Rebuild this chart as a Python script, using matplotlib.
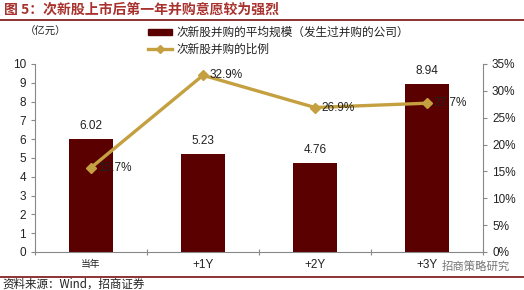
import matplotlib
matplotlib.use("Agg")
import matplotlib.pyplot as plt
from matplotlib.lines import Line2D
import numpy as np

plt.rcParams['font.family'] = ['Liberation Sans', 'Noto Sans CJK SC', 'DejaVu Sans']

categories = ["当年", "+1Y", "+2Y", "+3Y"]
avg_scale = [6.02, 5.23, 4.76, 8.94]
ratio = [15.7, 32.9, 26.9, 27.7]
bar_labels = ["6.02", "5.23", "4.76", "8.94"]
ratio_labels = ["15.7%", "32.9%", "26.9%", "27.7%"]

bar_color = "#5A0000"
line_color = "#C4A040"
title_color = "#A8322D"
cjk = ['Noto Sans CJK SC', 'DejaVu Sans']

fig = plt.figure(figsize=(5.24, 2.90), dpi=100)
W, H = 524, 290
ax = fig.add_axes([35 / W, 1 - 252 / H, (483 - 35) / W, (252 - 64) / H])
ax2 = ax.twinx()

x = np.arange(len(categories))
ax.bar(x, avg_scale, width=0.4, color=bar_color, zorder=2)
ax.set_xlim(-0.5, 3.5)
ax.set_ylim(0, 10)
ax.set_yticks(range(0, 11))
for xi, v, lab in zip(x, avg_scale, bar_labels):
    ax.text(xi, v + 0.35, lab, ha='center', va='bottom', fontsize=8.5, color='#222222')

ax2.plot(x, ratio, color=line_color, lw=2.4, marker='D', markersize=5, zorder=3)
ax2.set_ylim(0, 35)
ax2.set_yticks(range(0, 36, 5))
ax2.set_yticklabels([f"{v}%" for v in range(0, 36, 5)])
for xi, v, lab in zip(x, ratio, ratio_labels):
    ax2.text(xi + 0.06, v, lab, ha='left', va='center', fontsize=8.5, color='#222222')

for a in (ax, ax2):
    a.spines['top'].set_visible(False)
    a.tick_params(labelsize=8.5, colors='#222222', length=3, width=0.8)
    for s in a.spines.values():
        s.set_color('#888888')
ax.spines['right'].set_visible(False)
ax2.spines['left'].set_visible(False)
ax2.spines['bottom'].set_visible(False)
ax.tick_params(axis='y', colors='#888888', labelcolor='#222222')
ax2.tick_params(axis='y', colors='#888888', labelcolor='#222222')

ax.set_xticks(np.arange(-0.5, 4, 1), minor=False)
ax.set_xticklabels([])
ax.tick_params(axis='x', length=4, direction='inout', colors='#888888')
ax.set_xticks(x, minor=True)
ax.set_xticklabels(categories, minor=True, fontsize=8.5)
ax.tick_params(axis='x', which='minor', length=0, pad=5, labelcolor='#222222')
for t in ax.get_xticklabels(minor=True):
    if t.get_text() == "当年":
        t.set_fontfamily(cjk)
        t.set_fontsize(7)

# title & frame lines
fig.text(4 / W, 1 - 10 / H, "图 5：次新股上市后第一年并购意愿较为强烈", fontsize=10, fontweight='bold',
         color=title_color, family=cjk, va='center', ha='left')
fig.add_artist(Line2D([0, 1], [1 - 19.5 / H, 1 - 19.5 / H], color='#7A1010', lw=1.2))
fig.add_artist(Line2D([0, 1], [1 - 276.5 / H, 1 - 276.5 / H], color='#7A1010', lw=1.2))
fig.text(2 / W, 1 - 284 / H, "资料来源：Wind，招商证券", fontsize=8.3, family=cjk,
         color='#222222', va='center', ha='left')

# unit label and legend
fig.text(25 / W, 1 - 32 / H, "（亿元）", fontsize=7.5, family=cjk, color='#222222', va='center')
fig.patches.append(plt.Rectangle((148 / W, 1 - 35 / H), 24 / W, 6 / H, transform=fig.transFigure,
                                 color=bar_color, figure=fig))
fig.text(177 / W, 1 - 32 / H, "次新股并购的平均规模（发生过并购的公司）", fontsize=8.4, family=cjk,
         color='#222222', va='center')
fig.add_artist(Line2D([148 / W, 172 / W], [1 - 49 / H, 1 - 49 / H], color=line_color, lw=2.4))
fig.add_artist(Line2D([160 / W], [1 - 49 / H], color=line_color, marker='D', markersize=4))
fig.text(177 / W, 1 - 49 / H, "次新股并购的比例", fontsize=8.4, family=cjk, color='#222222', va='center')

# watermark
fig.text(442 / W, 1 - 266 / H, "招商策略研究", fontsize=8.2, family=cjk, color='#777777', va='center')

fig.savefig("out.png", dpi=100)
